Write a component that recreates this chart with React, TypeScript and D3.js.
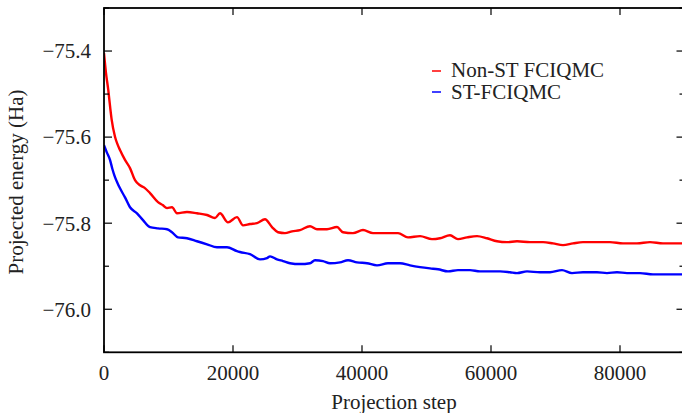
import React from "react";
import * as d3 from "d3";

const redSteps = [0, 300, 667, 950, 1194, 1705, 2100, 2481, 3256, 4031, 4806, 5581, 6300, 7132, 8372, 9100, 9768, 10543, 11318, 12868, 14419, 15969, 17209, 17985, 19225, 20620, 21551, 22636, 23721, 24961, 26047, 26977, 28062, 29148, 30388, 31938, 33024, 34574, 36124, 37055, 38605, 40155, 41706, 43876, 45582, 47132, 48993, 50853, 52093, 53644, 54884, 56280, 57830, 59380, 60931, 62481, 64032, 66047, 68063, 69613, 71163, 72714, 74264, 76434, 78450, 80465, 82636, 84651, 86667, 90000];
const redEnergy = [-75.405, -75.45, -75.491, -75.53, -75.56, -75.599, -75.617, -75.63, -75.653, -75.672, -75.7, -75.712, -75.718, -75.73, -75.751, -75.758, -75.765, -75.763, -75.777, -75.774, -75.777, -75.781, -75.788, -75.777, -75.798, -75.786, -75.805, -75.802, -75.8, -75.791, -75.809, -75.821, -75.823, -75.819, -75.816, -75.807, -75.814, -75.814, -75.809, -75.821, -75.823, -75.816, -75.823, -75.823, -75.823, -75.833, -75.83, -75.837, -75.835, -75.828, -75.837, -75.833, -75.83, -75.835, -75.842, -75.844, -75.842, -75.844, -75.844, -75.847, -75.851, -75.847, -75.844, -75.844, -75.844, -75.847, -75.847, -75.844, -75.847, -75.847];

const blueSteps = [0, 450, 930, 1300, 1705, 2100, 2481, 3256, 4031, 5116, 6047, 7132, 8372, 9768, 10543, 11473, 12868, 14419, 15969, 17520, 19070, 20620, 21085, 22636, 24186, 25271, 25737, 26822, 27752, 28837, 30388, 31938, 32713, 33954, 35039, 36589, 37830, 39225, 40776, 42326, 44031, 45892, 47442, 48993, 50543, 51783, 53334, 54884, 56745, 58295, 59845, 61396, 62946, 64032, 65582, 67597, 69148, 71008, 72558, 74264, 76434, 77984, 79535, 81085, 83101, 85116, 87287, 90000];
const blueEnergy = [-75.619, -75.636, -75.653, -75.674, -75.693, -75.707, -75.719, -75.74, -75.763, -75.777, -75.793, -75.809, -75.812, -75.814, -75.821, -75.833, -75.835, -75.842, -75.849, -75.856, -75.856, -75.865, -75.867, -75.872, -75.884, -75.881, -75.877, -75.884, -75.888, -75.893, -75.895, -75.893, -75.886, -75.888, -75.893, -75.891, -75.886, -75.891, -75.893, -75.898, -75.893, -75.893, -75.898, -75.902, -75.905, -75.907, -75.912, -75.909, -75.909, -75.912, -75.912, -75.912, -75.914, -75.916, -75.912, -75.914, -75.914, -75.909, -75.916, -75.914, -75.914, -75.916, -75.914, -75.916, -75.916, -75.919, -75.919, -75.919];

const xTicks = [0, 20000, 40000, 60000, 80000];
const yMajorTicks = [-75.4, -75.6, -75.8, -76.0];
const yMinorTicks = [-75.3, -75.5, -75.7, -75.9, -76.1];
const seriesNames = ["Non-ST FCIQMC", "ST-FCIQMC"];
const seriesColors = ["#ff0000", "#0000ff"];

const W = 682, H = 413;
const L = 104, R = 684.5, T = 8, B = 352.3;
const txt = { fontFamily: "Liberation Serif", fill: "#222" };

export default function App() {
  const x = d3.scaleLinear().domain([0, 90000]).range([L, R]);
  const y = d3.scaleLinear().domain([-76.1, -75.3]).range([B, T]);
  const line = d3.line<[number, number]>().x(d => x(d[0])).y(d => y(d[1])).curve(d3.curveMonotoneX);
  const red = redSteps.map((s, i) => [s, redEnergy[i]] as [number, number]);
  const blue = blueSteps.map((s, i) => [s, blueEnergy[i]] as [number, number]);
  const fmtY = (v: number) => "\u2212" + Math.abs(v).toFixed(1);

  return (
    <svg width={W} height={H} style={{ position: "absolute", left: 0, top: 0, background: "#fff" }}>
      <defs>
        <clipPath id="plot">
          <rect x={L} y={T} width={R - L} height={B - T} />
        </clipPath>
      </defs>
      <g clipPath="url(#plot)" fill="none" strokeLinejoin="round">
        <path d={line(red) || ""} stroke={seriesColors[0]} strokeWidth={2.4} />
        <path d={line(blue) || ""} stroke={seriesColors[1]} strokeWidth={2.4} />
      </g>
      <rect x={L} y={T} width={R - L} height={B - T} fill="none" stroke="#000" strokeWidth={1.8} />
      {xTicks.map(t => (
        <g key={"x" + t}>
          <line x1={x(t)} x2={x(t)} y1={B} y2={B - 7} stroke="#000" strokeWidth={1.2} />
          <line x1={x(t)} x2={x(t)} y1={T} y2={T + 7} stroke="#000" strokeWidth={1.2} />
          <text x={x(t)} y={380} textAnchor="middle" fontSize={21} style={txt}>{t}</text>
        </g>
      ))}
      {yMajorTicks.map(t => (
        <g key={"y" + t}>
          <line x1={L} x2={L + 8} y1={y(t)} y2={y(t)} stroke="#000" strokeWidth={1.2} />
          <line x1={R} x2={R - 8} y1={y(t)} y2={y(t)} stroke="#000" strokeWidth={1.2} />
          <text x={91} y={y(t)} dy="0.35em" textAnchor="end" fontSize={21} style={txt}>{fmtY(t)}</text>
        </g>
      ))}
      {yMinorTicks.map(t => (
        <g key={"ym" + t}>
          <line x1={L} x2={L + 5} y1={y(t)} y2={y(t)} stroke="#000" strokeWidth={1.2} />
          <line x1={R} x2={R - 5} y1={y(t)} y2={y(t)} stroke="#000" strokeWidth={1.2} />
        </g>
      ))}
      <text x={394} y={409} textAnchor="middle" fontSize={21} style={txt}>Projection step</text>
      <text transform={`translate(23,182) rotate(-90)`} textAnchor="middle" fontSize={21} style={txt}>Projected energy (Ha)</text>
      {seriesNames.map((n, i) => (
        <g key={n}>
          <line x1={432} x2={441} y1={71 + i * 21} y2={71 + i * 21} stroke={seriesColors[i]} strokeWidth={1.5} />
          <text x={451} y={77 + i * 22} fontSize={21} style={txt}>{n}</text>
        </g>
      ))}
    </svg>
  );
}
